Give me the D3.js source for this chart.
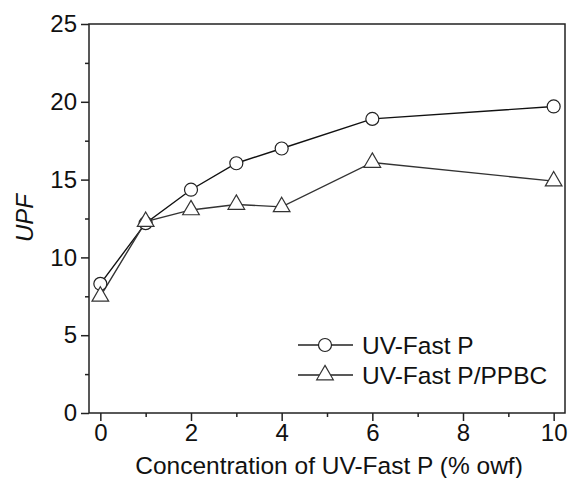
<!DOCTYPE html>
<html>
<head>
<meta charset="utf-8">
<script src="https://cdn.jsdelivr.net/npm/d3@7"></script>
<style>
  body { margin: 0; background: #fff; }
  text { font-family: "Liberation Sans", Arial, sans-serif; fill: #111; }
</style>
</head>
<body>
<svg></svg>
<script>
// DATA
let concentration = [0, 1, 2, 3, 4, 6, 10];
let upfFastP = [8.3, 12.2, 14.35, 16.05, 17.0, 18.9, 19.7];
let upfFastPPPBC = [7.5, 12.3, 13.05, 13.4, 13.25, 16.1, 14.9];
let seriesNames = ["UV-Fast P", "UV-Fast P/PPBC"];
let xTicks = [0, 2, 4, 6, 8, 10];
let yTicks = [0, 5, 10, 15, 20, 25];

// PAGE SETUP
let margin = {top: 24, left: 89, right: 6, bottom: 65};
let width = 571 - margin.left - margin.right;
let height = 478 - margin.top - margin.bottom;

let svg = d3.select("svg")
  .attr("width", 571)
  .attr("height", 478)
  .append("g")
  .attr("transform", `translate(${margin.left},${margin.top})`);

let x = d3.scaleLinear().domain([-0.25, 10.25]).range([0, width]);
let y = d3.scaleLinear().domain([0, 25]).range([height, 0]);

// frame
svg.append("rect")
  .attr("width", width).attr("height", height)
  .attr("fill", "none").attr("stroke", "#222").attr("stroke-width", 1.5);

// axes
svg.append("g").attr("transform", `translate(0,${height})`)
  .call(d3.axisBottom(x).tickValues(xTicks).tickSize(8).tickPadding(3).tickFormat(d3.format("d")));
svg.append("g").attr("transform", `translate(0,${height})`)
  .call(d3.axisBottom(x).tickValues([1, 3, 5, 7, 9]).tickSize(4).tickFormat(""));
svg.append("g")
  .call(d3.axisLeft(y).tickValues(yTicks).tickSize(8).tickPadding(4));
svg.append("g")
  .call(d3.axisLeft(y).tickValues([2.5, 7.5, 12.5, 17.5, 22.5]).tickSize(4).tickFormat(""));

svg.selectAll(".domain").remove();
svg.selectAll(".tick line").attr("stroke", "#222").attr("stroke-width", 1.5);
svg.selectAll(".tick text").style("font-size", "24px").attr("fill", "#111");

// axis titles
svg.append("text")
  .attr("x", 329 - margin.left).attr("y", 474 - margin.top)
  .attr("text-anchor", "middle")
  .style("font-size", "24.5px")
  .text("Concentration of UV-Fast P (% owf)");

svg.append("text")
  .attr("transform", `translate(${33 - margin.left},${218 - margin.top}) rotate(-90)`)
  .attr("text-anchor", "middle")
  .style("font-size", "24px").style("font-style", "italic")
  .text("UPF");

// lines
let line = d3.line().x((d, i) => x(concentration[i])).y(d => y(d));
let triangle = d3.symbol().type(d3.symbolTriangle).size(120);

[upfFastP, upfFastPPPBC].forEach(function(vals, k){
  svg.append("path").datum(vals)
    .attr("d", line).attr("fill", "none")
    .attr("stroke", k == 0 ? "#111" : "#333").attr("stroke-width", 1.4);
});

// markers
svg.selectAll(".circ").data(upfFastP).enter().append("circle")
  .attr("class", "circ")
  .attr("cx", (d, i) => x(concentration[i]))
  .attr("cy", d => y(d))
  .attr("r", 6.5)
  .attr("fill", "#fff").attr("stroke", "#222").attr("stroke-width", 1.2);

svg.selectAll(".tri").data(upfFastPPPBC).enter().append("path")
  .attr("class", "tri")
  .attr("d", triangle)
  .attr("transform", (d, i) => `translate(${x(concentration[i])},${y(d)})`)
  .attr("fill", "#fff").attr("stroke", "#333").attr("stroke-width", 1.2);

// legend
let legend = svg.append("g").attr("transform", `translate(${298 - margin.left},${345 - margin.top})`);
seriesNames.forEach(function(name, k){
  let row = legend.append("g").attr("transform", `translate(0,${k * 30})`);
  row.append("line").attr("x1", 0).attr("x2", 55).attr("y1", 0).attr("y2", 0)
    .attr("stroke", "#222").attr("stroke-width", 1.4);
  if (k == 0) {
    row.append("circle").attr("cx", 27).attr("cy", 0).attr("r", 6.5)
      .attr("fill", "#fff").attr("stroke", "#222").attr("stroke-width", 1.2);
  } else {
    row.append("path").attr("d", triangle).attr("transform", "translate(27,0)")
      .attr("fill", "#fff").attr("stroke", "#333").attr("stroke-width", 1.2);
  }
  row.append("text").attr("x", 64).attr("y", 8.5)
    .style("font-size", "24.5px").text(name);
});
</script>
</body>
</html>
